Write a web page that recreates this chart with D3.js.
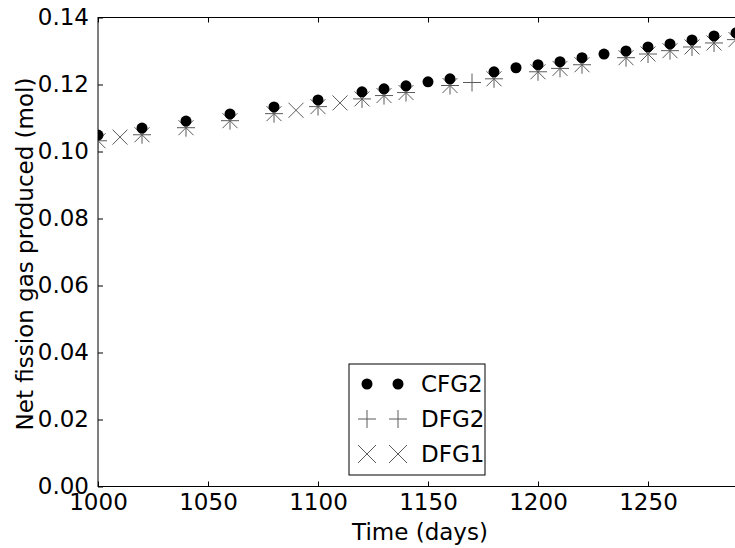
<!DOCTYPE html>
<html>
<head>
<meta charset="utf-8">
<script src="https://cdn.jsdelivr.net/npm/d3@7"></script>
<style>
  body { margin: 0; background: #fff; }
  text { font-family: "DejaVu Sans", sans-serif; font-size: 23px; fill: #000; }
</style>
</head>
<body>
<div id="chart"></div>
<script>
// time (days) and net fission gas (mol) per series
var cfg2Days = [1000,1020,1040,1060,1080,1100,1120,1130,1140,1150,1160,1180,1190,1200,1210,1220,1230,1240,1250,1260,1270,1280,1290];
var cfg2Gas  = [0.1049,0.1070,0.1091,0.1112,0.1133,0.1154,0.1178,0.1187,0.1196,0.1208,0.1217,0.1238,0.1250,0.1259,0.1268,0.1280,0.1291,0.1300,0.1312,0.1321,0.1333,0.1345,0.1354];

var dfg2Days = [1000,1020,1040,1060,1080,1100,1120,1130,1140,1160,1170,1180,1200,1210,1220,1240,1250,1260,1270,1280,1290];
var dfg2Gas  = [0.1032,0.1050,0.1071,0.1092,0.1113,0.1134,0.1157,0.1167,0.1176,0.1197,0.1206,0.1217,0.1238,0.1248,0.1259,0.1280,0.1291,0.1301,0.1312,0.1324,0.1334];

var dfg1Days = [1000,1010,1020,1040,1060,1080,1090,1100,1110,1120,1130,1140,1160,1180,1200,1210,1220,1240,1250,1260,1270,1280,1290];
var dfg1Gas  = [0.1032,0.1043,0.1050,0.1071,0.1092,0.1113,0.1123,0.1134,0.1145,0.1157,0.1167,0.1176,0.1197,0.1217,0.1238,0.1248,0.1259,0.1280,0.1291,0.1301,0.1312,0.1324,0.1334];

var xTicks = [1000,1050,1100,1150,1200,1250];
var yTicks = [0,0.02,0.04,0.06,0.08,0.10,0.12,0.14];
var seriesNames = ["CFG2","DFG2","DFG1"];

var W = 735, H = 548;
// note: "top" clashes with window.top, so the margins get a prefix
var pLeft = 98, pRight = 736, pTop = 17.5, pBottom = 486.5;

var x = d3.scaleLinear().domain([1000,1290]).range([pLeft,pRight]);
var y = d3.scaleLinear().domain([0,0.14]).range([pBottom,pTop]);

var svg = d3.select("#chart").append("svg")
  .attr("width", W).attr("height", H);

svg.append("defs").append("clipPath").attr("id","plotClip")
  .append("rect").attr("x",pLeft).attr("y",pTop)
  .attr("width",pRight-pLeft).attr("height",pBottom-pTop);

// marker shapes
function plusPath(s) { return "M"+(-s)+",0H"+s+"M0,"+(-s)+"V"+s; }
function timesPath(s) { return "M"+(-s)+","+(-s)+"L"+s+","+s+"M"+(-s)+","+s+"L"+s+","+(-s); }
var grey = "#5a5a5a";

// axes (ticks point inwards, like the old matplotlib style)
var gx = svg.append("g").attr("transform","translate(0,"+pBottom+")")
  .call(d3.axisBottom(x).tickValues(xTicks).tickSizeInner(-5).tickSizeOuter(0).tickPadding(7).tickFormat(d3.format("d")));
var gxTop = svg.append("g").attr("transform","translate(0,"+pTop+")")
  .call(d3.axisTop(x).tickValues(xTicks).tickSizeInner(-5).tickSizeOuter(0).tickFormat(""));
var gy = svg.append("g").attr("transform","translate("+pLeft+",0)")
  .call(d3.axisLeft(y).tickValues(yTicks).tickSizeInner(-5).tickSizeOuter(0).tickPadding(9).tickFormat(d3.format(".2f")));
[gx,gxTop,gy].forEach(function(g) {
  g.select(".domain").remove();
  g.selectAll("line").attr("stroke","#000");
  g.selectAll("text").attr("font-size",null).attr("font-family",null);
});

// plot frame
svg.append("rect").attr("x",pLeft).attr("y",pTop)
  .attr("width",pRight-pLeft).attr("height",pBottom-pTop)
  .attr("fill","none").attr("stroke","#000").attr("stroke-width",1);

var plot = svg.append("g").attr("clip-path","url(#plotClip)");

function points(days, gas) {
  return days.map(function(d,i) { return {t:d, v:gas[i]}; });
}

plot.selectAll("path.dfg1").data(points(dfg1Days,dfg1Gas)).enter().append("path")
  .attr("class","dfg1")
  .attr("transform",function(d){return "translate("+x(d.t)+","+y(d.v)+")";})
  .attr("d",timesPath(7.5)).attr("stroke",grey).attr("stroke-width",1).attr("fill","none");

plot.selectAll("path.dfg2").data(points(dfg2Days,dfg2Gas)).enter().append("path")
  .attr("class","dfg2")
  .attr("transform",function(d){return "translate("+x(d.t)+","+y(d.v)+")";})
  .attr("d",plusPath(9)).attr("stroke",grey).attr("stroke-width",1).attr("fill","none");

plot.selectAll("circle.cfg2").data(points(cfg2Days,cfg2Gas)).enter().append("circle")
  .attr("class","cfg2")
  .attr("cx",function(d){return x(d.t);}).attr("cy",function(d){return y(d.v);})
  .attr("r",5.5).attr("fill","#000");

// axis titles
svg.append("text").attr("x",420).attr("y",540)
  .attr("text-anchor","middle").text("Time (days)");
svg.append("text")
  .attr("transform","translate(33,"+((pTop+pBottom)/2 + 2)+") rotate(-90)")
  .attr("text-anchor","middle").text("Net fission gas produced (mol)");

// legend, two markers per entry
var lg = svg.append("g").attr("transform","translate(349,364)");
lg.append("rect").attr("width",136).attr("height",111)
  .attr("fill","#fff").attr("stroke","#000").attr("stroke-width",1);
seriesNames.forEach(function(name,i) {
  var cy = 20 + i*35;
  [18,49].forEach(function(mx) {
    if (i == 0)
      lg.append("circle").attr("cx",mx).attr("cy",cy).attr("r",5.5).attr("fill","#000");
    else
      lg.append("path").attr("transform","translate("+mx+","+cy+")")
        .attr("d", i == 1 ? plusPath(9) : timesPath(9))
        .attr("stroke",grey).attr("stroke-width",1).attr("fill","none");
  });
  lg.append("text").attr("x",72).attr("y",cy+8).text(name);
});
</script>
</body>
</html>
